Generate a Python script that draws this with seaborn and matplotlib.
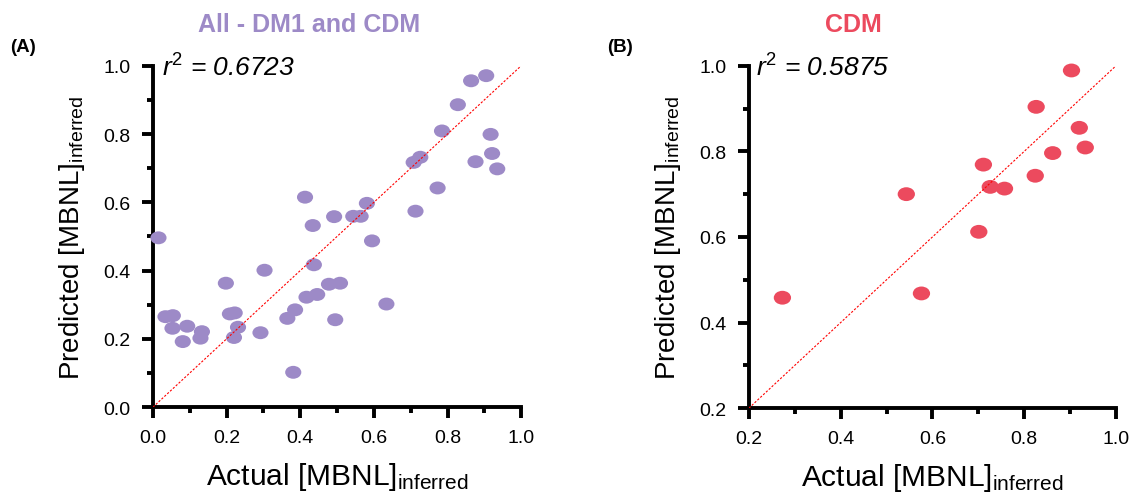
import numpy as np
import pandas as pd
import matplotlib
matplotlib.use("Agg")
import matplotlib.pyplot as plt
from matplotlib.path import Path
from matplotlib.ticker import MultipleLocator
import seaborn as sns

# Panel A - all samples (DM1 and CDM)
all_actual = [0.015, 0.034, 0.054, 0.053, 0.093, 0.081, 0.133, 0.129, 0.198, 0.209,
              0.222, 0.231, 0.220, 0.303, 0.292, 0.365, 0.386, 0.381, 0.413, 0.434,
              0.437, 0.417, 0.446, 0.478, 0.508, 0.492, 0.495, 0.544, 0.564, 0.581,
              0.595, 0.634, 0.708, 0.726, 0.713, 0.773, 0.785, 0.828, 0.864, 0.905,
              0.876, 0.917, 0.921, 0.935]
all_pred = [0.496, 0.265, 0.268, 0.231, 0.237, 0.192, 0.221, 0.202, 0.363, 0.273,
            0.276, 0.234, 0.204, 0.401, 0.218, 0.260, 0.285, 0.102, 0.615, 0.532,
            0.417, 0.322, 0.330, 0.360, 0.363, 0.558, 0.256, 0.559, 0.559, 0.597,
            0.487, 0.302, 0.717, 0.732, 0.574, 0.642, 0.809, 0.886, 0.956, 0.971,
            0.719, 0.799, 0.743, 0.698]

# Panel B - CDM only
cdm_actual = [0.273, 0.543, 0.576, 0.701, 0.711, 0.726, 0.757, 0.824, 0.826, 0.862,
              0.903, 0.920, 0.933]
cdm_pred = [0.458, 0.700, 0.468, 0.612, 0.769, 0.717, 0.713, 0.743, 0.904, 0.796,
            0.989, 0.855, 0.809]

PURPLE = "#9D8AC7"
RED = "#EC4A5E"

sns.set_theme(style="ticks")
plt.rcParams["font.family"] = ["Liberation Sans", "DejaVu Sans"]
plt.rcParams["mathtext.fontset"] = "custom"
plt.rcParams["mathtext.rm"] = "Liberation Sans"
plt.rcParams["mathtext.it"] = "Liberation Sans:italic"
plt.rcParams["text.color"] = "black"
plt.rcParams["axes.labelcolor"] = "black"
plt.rcParams["xtick.color"] = "black"
plt.rcParams["ytick.color"] = "black"
plt.rcParams["axes.edgecolor"] = "black"

# slightly wide ellipse marker, like the original
circ = Path.unit_circle()
ellipse = Path(circ.vertices * np.array([1.25, 1.0]), circ.codes)

fig = plt.figure(figsize=(11.33, 5.02), dpi=100)
axA = fig.add_axes([0.135, 0.187, 0.325, 0.680])
axB = fig.add_axes([0.661, 0.185, 0.324, 0.682])


def style_axis(ax, lo):
    ax.set_xlim(lo, 1.0)
    ax.set_ylim(lo, 1.0)
    for s in ["top", "right"]:
        ax.spines[s].set_visible(False)
    for s in ["left", "bottom"]:
        ax.spines[s].set_linewidth(2.8)
    ax.xaxis.set_major_locator(MultipleLocator(0.2))
    ax.yaxis.set_major_locator(MultipleLocator(0.2))
    ax.xaxis.set_minor_locator(MultipleLocator(0.1))
    ax.yaxis.set_minor_locator(MultipleLocator(0.1))
    ax.xaxis.set_major_formatter(lambda v, p: f"{v:.1f}")
    ax.yaxis.set_major_formatter(lambda v, p: f"{v:.1f}")
    ax.tick_params(which="major", length=8, width=2.8, labelsize=14, pad=8)
    ax.tick_params(which="minor", length=4.5, width=2.8)
    ax.set_xlabel("Actual [MBNL]$_{\\mathrm{inferred}}$", fontsize=21.5, labelpad=10)
    ax.set_ylabel("Predicted [MBNL]$_{\\mathrm{inferred}}$", fontsize=20, labelpad=12)
    ax.plot([lo, 1.0], [lo, 1.0], color="red", linestyle=(0, (2, 1.5)),
            linewidth=0.8, zorder=5)


dfA = pd.DataFrame({"actual": all_actual, "pred": all_pred})
sns.scatterplot(data=dfA, x="actual", y="pred", ax=axA, color=PURPLE,
                marker=ellipse, s=135, edgecolor="none", clip_on=False, zorder=3)
style_axis(axA, 0.0)
axA.text(0.025, 0.995, "$\\mathit{r}^2$ = 0.6723", transform=axA.transAxes,
         fontsize=19, style="italic", va="center", ha="left")

dfB = pd.DataFrame({"actual": cdm_actual, "pred": cdm_pred})
sns.scatterplot(data=dfB, x="actual", y="pred", ax=axB, color=RED,
                marker=ellipse, s=155, edgecolor="none", clip_on=False, zorder=3)
style_axis(axB, 0.2)
axB.text(0.02, 0.995, "$\\mathit{r}^2$ = 0.5875", transform=axB.transAxes,
         fontsize=19, style="italic", va="center", ha="left")

fig.text(309 / 1133, 1 - 25 / 502, "All - DM1 and CDM", color=PURPLE,
         fontsize=18, fontweight="bold", ha="center", va="center")
fig.text(853 / 1133, 1 - 25 / 502, "CDM", color=RED,
         fontsize=18, fontweight="bold", ha="center", va="center")
fig.text(10 / 1133, 1 - 47 / 502, "(A)", fontsize=13.5, fontweight="bold",
         ha="left", va="center")
fig.text(607 / 1133, 1 - 47 / 502, "(B)", fontsize=13.5, fontweight="bold",
         ha="left", va="center")

fig.savefig("out.png", dpi=100)
